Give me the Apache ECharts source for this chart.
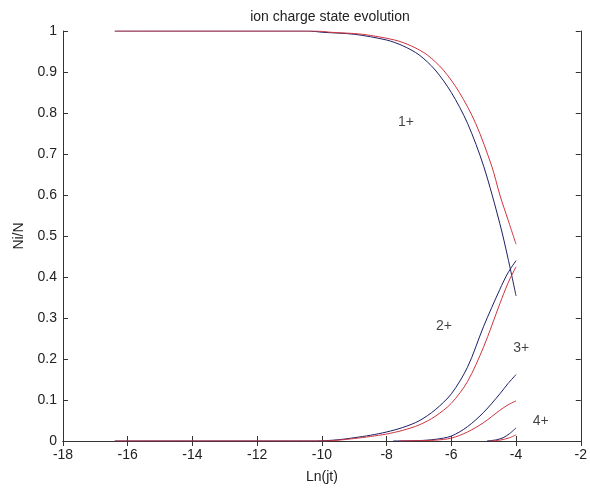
<!DOCTYPE html>
<html>
<head>
<meta charset="utf-8">
<script src="https://cdn.jsdelivr.net/npm/echarts@6/dist/echarts.min.js"></script>
<style>html,body{margin:0;padding:0;background:#fff;}#c{width:590px;height:489px;}</style>
</head>
<body>
<div id="c"></div>
<script>
// x positions and values
var blue1X = [-16.4, -10.4, -10, -9, -8, -7.5, -7, -6.5, -6, -5.5, -5, -4.5, -4.25, -4.0];
var blue1Y = [1.0, 1.0, 0.997, 0.992, 0.978, 0.964, 0.942, 0.905, 0.85, 0.775, 0.67, 0.53, 0.446, 0.354];
var red1X  = [-16.4, -10.15, -9.75, -8.75, -7.75, -7.25, -6.75, -6.25, -5.75, -5.25, -4.75, -4.5, -4.25, -4.0];
var red1Y  = [1.0, 1.0, 0.997, 0.992, 0.978, 0.964, 0.942, 0.905, 0.85, 0.775, 0.67, 0.6, 0.54, 0.48];

var blue2X = [-16.4, -10.2, -9.5, -9, -8.5, -8, -7.5, -7, -6.5, -6, -5.5, -5, -4.5, -4.25, -4.0];
var blue2Y = [0, 0, 0.003, 0.008, 0.014, 0.022, 0.033, 0.049, 0.076, 0.115, 0.18, 0.28, 0.37, 0.41, 0.44];
var red2X  = [-16.4, -10.0, -9.5, -9, -8.5, -8, -7.5, -7, -6.5, -6, -5.5, -5, -4.5, -4.25, -4.0];
var red2Y  = [0, 0, 0.002, 0.006, 0.011, 0.017, 0.026, 0.039, 0.06, 0.092, 0.145, 0.23, 0.335, 0.385, 0.425];

var blue3X = [-7.8, -7, -6.5, -6, -5.5, -5, -4.5, -4.25, -4.0];
var blue3Y = [0, 0.001, 0.004, 0.012, 0.035, 0.07, 0.115, 0.14, 0.162];
var red3X  = [-7.6, -7, -6.5, -6, -5.5, -5, -4.5, -4.25, -4.0];
var red3Y  = [0, 0.001, 0.002, 0.007, 0.022, 0.045, 0.075, 0.088, 0.098];

var blue4X = [-4.9, -4.6, -4.4, -4.2, -4.0];
var blue4Y = [0, 0.003, 0.008, 0.018, 0.032];
var red4X  = [-4.8, -4.5, -4.2, -4.0];
var red4Y  = [0, 0.002, 0.008, 0.015];

var labelText = ['1+', '2+', '3+', '4+'];
var labelX = [-7.4, -6.23, -3.84, -3.24];
var labelY = [0.778, 0.279, 0.226, 0.049];

var xTicks = {min: -18, max: -2, interval: 2};
var yTicks = {min: 0, max: 1, interval: 0.1};

var BLUE = '#1c1f66';
var RED = '#cf3340';
var FONT = 'Liberation Sans, Arial, sans-serif';

function pairs(xs, ys) { return xs.map(function (x, i) { return [x, ys[i]]; }); }
function line(xs, ys, color) {
  return {
    type: 'line', data: pairs(xs, ys), smooth: 0.3, showSymbol: false, symbol: 'none',
    lineStyle: {color: color, width: 1}, itemStyle: {color: color}, animation: false, z: 3
  };
}

var axisLineStyle = {color: '#333', width: 1};
var chart = echarts.init(document.getElementById('c'), null, {renderer: 'canvas'});
chart.setOption({
  backgroundColor: '#fff',
  animation: false,
  title: {
    text: 'ion charge state evolution', left: 325, top: 5, textAlign: 'center',
    textStyle: {fontFamily: FONT, fontSize: 14, fontWeight: 'normal', color: '#222'}
  },
  grid: {left: 63, right: 3, top: 31, bottom: 47},
  xAxis: [{
    type: 'value', min: xTicks.min, max: xTicks.max, interval: xTicks.interval, position: 'bottom',
    name: 'Ln(jt)', nameLocation: 'middle', nameGap: 29,
    nameTextStyle: {fontFamily: FONT, fontSize: 14, color: '#222'},
    axisLine: {show: true, lineStyle: axisLineStyle},
    axisTick: {show: true, inside: true, length: 5, lineStyle: axisLineStyle},
    axisLabel: {show: true, fontFamily: FONT, fontSize: 14, color: '#222', margin: 7, showMinLabel: true, showMaxLabel: true, hideOverlap: false},
    splitLine: {show: false}
  }, {
    type: 'value', min: xTicks.min, max: xTicks.max, interval: xTicks.interval, position: 'top',
    axisLine: {show: true, lineStyle: axisLineStyle},
    axisTick: {show: true, inside: true, length: 5, lineStyle: axisLineStyle},
    axisLabel: {show: false}, splitLine: {show: false}
  }],
  yAxis: [{
    type: 'value', min: yTicks.min, max: yTicks.max, interval: yTicks.interval, position: 'left',
    name: 'Ni/N', nameLocation: 'middle', nameGap: 37, nameRotate: 90,
    nameTextStyle: {fontFamily: FONT, fontSize: 14, color: '#222'},
    axisLine: {show: true, lineStyle: axisLineStyle},
    axisTick: {show: true, inside: true, length: 5, lineStyle: axisLineStyle},
    axisLabel: {show: true, fontFamily: FONT, fontSize: 14, color: '#222', margin: 6, showMinLabel: true, showMaxLabel: true, hideOverlap: false,
      formatter: function (v) { return String(+v.toFixed(1)); }},
    splitLine: {show: false}
  }, {
    type: 'value', min: yTicks.min, max: yTicks.max, interval: yTicks.interval, position: 'right',
    axisLine: {show: true, lineStyle: axisLineStyle},
    axisTick: {show: true, inside: true, length: 5, lineStyle: axisLineStyle},
    axisLabel: {show: false}, splitLine: {show: false}
  }],
  series: [
    line(blue1X, blue1Y, BLUE), line(red1X, red1Y, RED),
    line(blue2X, blue2Y, BLUE), line(red2X, red2Y, RED),
    line(blue3X, blue3Y, BLUE), line(red3X, red3Y, RED),
    line(blue4X, blue4Y, BLUE), line(red4X, red4Y, RED),
    {
      type: 'scatter', symbolSize: 0, silent: true, animation: false, z: 5,
      data: labelText.map(function (t, i) { return {value: [labelX[i], labelY[i]], name: t}; }),
      label: {show: true, position: 'inside', formatter: '{b}', fontFamily: FONT, fontSize: 14, color: '#111'}
    }
  ]
});
</script>
</body>
</html>
